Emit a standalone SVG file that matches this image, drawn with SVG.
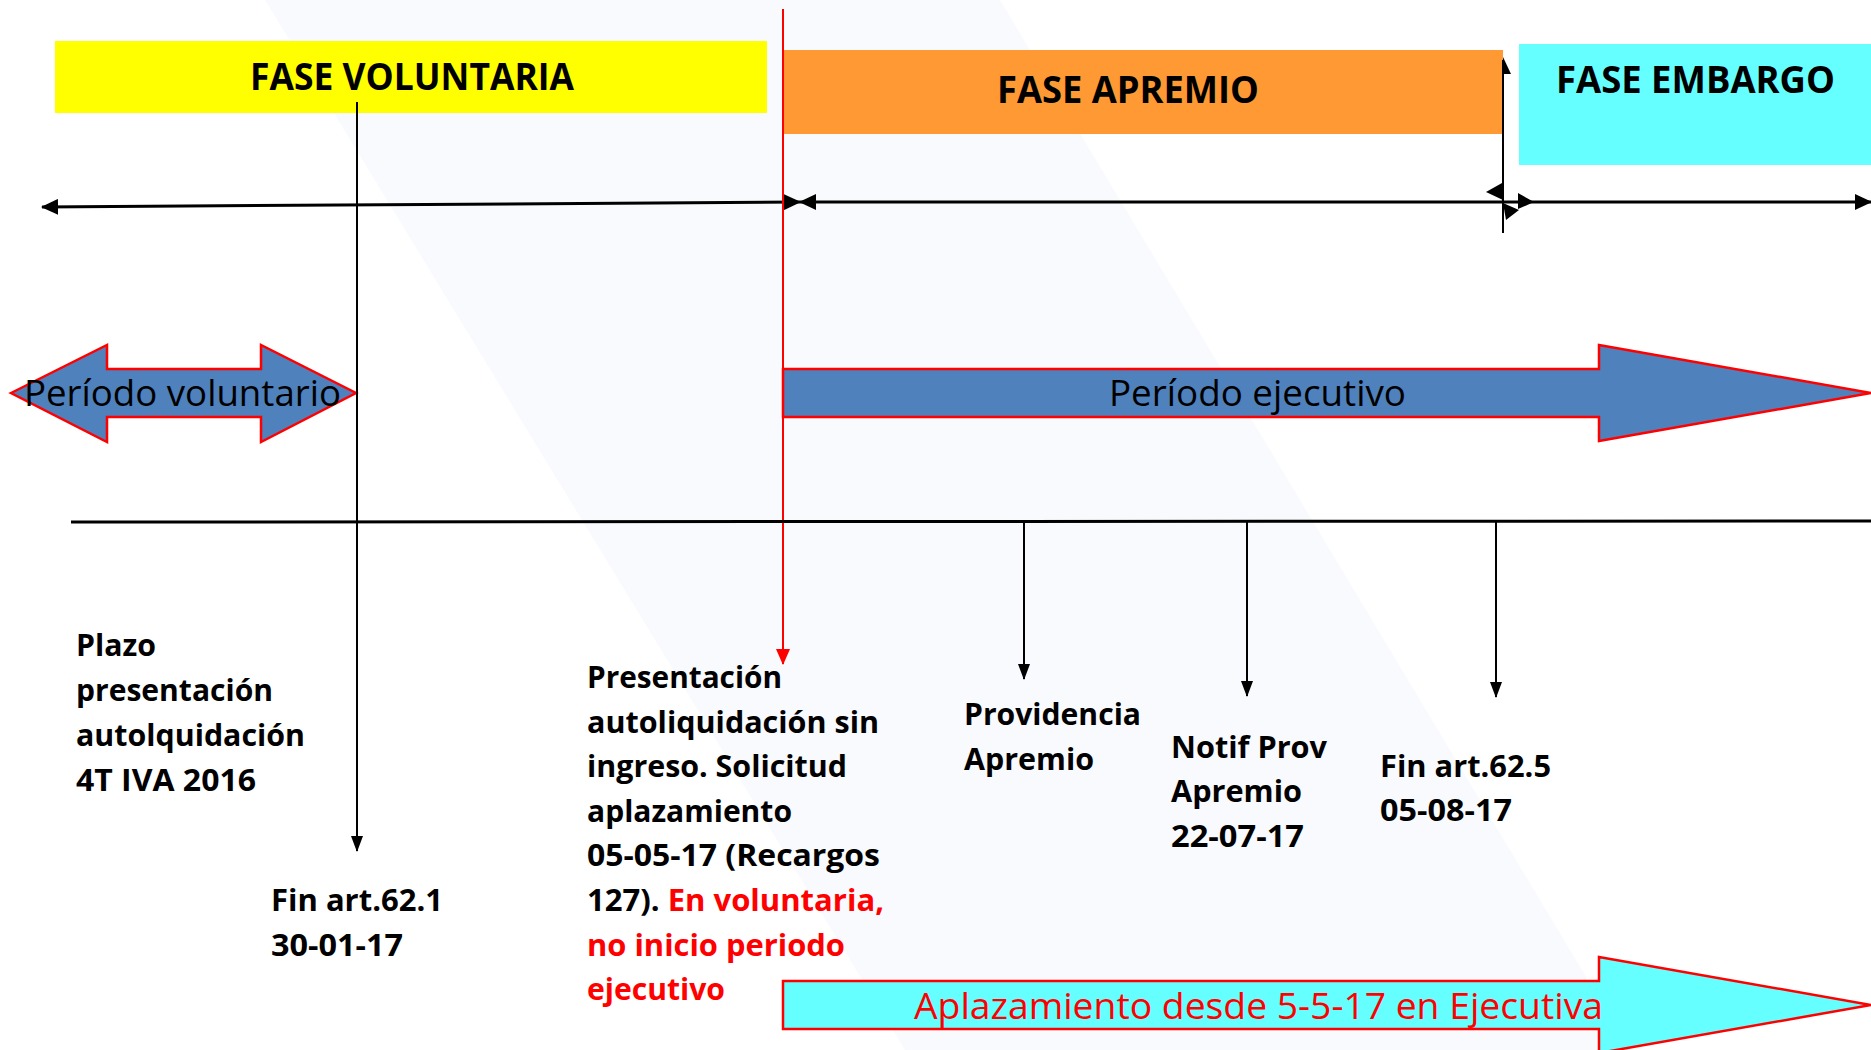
<svg xmlns="http://www.w3.org/2000/svg" width="1871" height="1050" viewBox="0 0 1871 1050">
<style>
.t{font-family:"Open Sans","Liberation Sans",sans-serif;font-weight:700;font-size:31px;fill:#000}
.h{font-family:"Open Sans","Liberation Sans",sans-serif;font-weight:700;font-size:38px;fill:#000}
.p{font-family:"Open Sans","Liberation Sans",sans-serif;font-weight:400;font-size:36px;fill:#000}
.red{fill:#FF0000}
.ln{stroke:#000;stroke-width:3;fill:none}
.thin{stroke:#000;stroke-width:2;fill:none}
.blue{fill:#4F81BD;stroke:#FF0000;stroke-width:2.5;stroke-linejoin:miter}
.cyan{fill:#66FFFF;stroke:#FF0000;stroke-width:2.5}
</style>
<defs>
<marker id="ah" markerUnits="userSpaceOnUse" markerWidth="16" markerHeight="12" refX="15" refY="6" orient="auto-start-reverse"><path d="M0,0L16,6L0,12z" fill="#000"/></marker>
<marker id="ahb" markerUnits="userSpaceOnUse" markerWidth="17" markerHeight="16" refX="16" refY="8" orient="auto-start-reverse"><path d="M0,0L17,8L0,16z" fill="#000"/></marker>
<marker id="ahr" markerUnits="userSpaceOnUse" markerWidth="16" markerHeight="14" refX="15" refY="7" orient="auto"><path d="M0,0L16,7L0,14z" fill="#FF0000"/></marker>
</defs>
<rect width="1871" height="1050" fill="#FFFFFF"/>
<polygon points="265,0 1000,0 1630,1050 905,1050" fill="#F8FAFD"/>

<g id="fase-voluntaria">
<rect x="55" y="41" width="712" height="72" fill="#FFFF00"/>
<text class="h" x="250" y="90" textLength="324" lengthAdjust="spacingAndGlyphs">FASE VOLUNTARIA</text>
</g>
<g id="fase-apremio">
<rect x="783" y="50" width="720" height="84" fill="#FF9933"/>
<text class="h" x="997" y="103" textLength="262" lengthAdjust="spacingAndGlyphs">FASE APREMIO</text>
</g>
<g id="fase-embargo">
<rect x="1519" y="44" width="352" height="121" fill="#66FFFF"/>
<text class="h" x="1556" y="93" textLength="279" lengthAdjust="spacingAndGlyphs">FASE EMBARGO</text>
</g>

<g id="periodo-voluntario">
<polygon class="blue" points="11,393 107,345 107,369 261,369 261,345 356,393 261,442 261,417 107,417 107,442"/>
</g>
<g id="periodo-ejecutivo">
<polygon class="blue" points="783,369 1599,369 1599,345 1871,393 1599,441 1599,417 783,417"/>
</g>
<g id="aplazamiento">
<polygon class="cyan" points="783,981 1599,981 1599,957 1871,1005 1599,1053 1599,1029 783,1029"/>
</g>

<g id="connectors">
<line class="ln" x1="42" y1="207" x2="800" y2="202" marker-start="url(#ahb)" marker-end="url(#ahb)"/>
<line class="ln" x1="800" y1="202" x2="1503" y2="202" marker-start="url(#ahb)"/>
<line class="ln" x1="1503" y1="202" x2="1871" y2="202" marker-end="url(#ahb)"/>
<polygon points="1486,192 1502,183 1503,200" fill="#000"/>
<polygon points="1503,203 1519,210 1506,220" fill="#000"/>
<polygon points="1518,193 1534,202 1518,209" fill="#000"/>
<line class="thin" x1="1503" y1="60" x2="1503" y2="233"/>
<polygon points="1503,57 1511,74 1503,74" fill="#000"/>
<line class="thin" x1="357" y1="102" x2="357" y2="851" marker-end="url(#ah)"/>
<line x1="783" y1="9" x2="783" y2="664" stroke="#FF0000" stroke-width="2" marker-end="url(#ahr)"/>
<line class="ln" x1="71" y1="522" x2="1871" y2="521"/>
<line class="thin" x1="1024" y1="522" x2="1024" y2="679" marker-end="url(#ah)"/>
<line class="thin" x1="1247" y1="522" x2="1247" y2="696" marker-end="url(#ah)"/>
<line class="thin" x1="1496" y1="522" x2="1496" y2="697" marker-end="url(#ah)"/>
</g>

<g id="labels">
<text class="p" x="24" y="406" textLength="317" lengthAdjust="spacingAndGlyphs">Período voluntario</text>
<text class="p" x="1109" y="406" textLength="297" lengthAdjust="spacingAndGlyphs">Período ejecutivo</text>
<text class="p red" x="914" y="1019" textLength="689" lengthAdjust="spacingAndGlyphs">Aplazamiento desde 5-5-17 en Ejecutiva</text>
</g>

<g id="plazo">
<text class="t" x="76" y="656" textLength="80" lengthAdjust="spacingAndGlyphs">Plazo</text>
<text class="t" x="76" y="701" textLength="197" lengthAdjust="spacingAndGlyphs">presentación</text>
<text class="t" x="76" y="746" textLength="229" lengthAdjust="spacingAndGlyphs">autolquidación</text>
<text class="t" x="76" y="791" textLength="180" lengthAdjust="spacingAndGlyphs">4T IVA 2016</text>
</g>
<g id="fin-62-1">
<text class="t" x="271" y="911" textLength="172" lengthAdjust="spacingAndGlyphs">Fin art.62.1</text>
<text class="t" x="271" y="956" textLength="132" lengthAdjust="spacingAndGlyphs">30-01-17</text>
</g>
<g id="presentacion">
<text class="t" x="587" y="688" textLength="195" lengthAdjust="spacingAndGlyphs">Presentación</text>
<text class="t" x="587" y="733" textLength="292" lengthAdjust="spacingAndGlyphs">autoliquidación sin</text>
<text class="t" x="587" y="777" textLength="260" lengthAdjust="spacingAndGlyphs">ingreso. Solicitud</text>
<text class="t" x="587" y="822" textLength="205" lengthAdjust="spacingAndGlyphs">aplazamiento</text>
<text class="t" x="587" y="866" textLength="293" lengthAdjust="spacingAndGlyphs">05-05-17 (Recargos</text>
<text class="t" x="587" y="911" textLength="297" lengthAdjust="spacingAndGlyphs">127). <tspan class="red">En voluntaria,</tspan></text>
<text class="t red" x="587" y="956" textLength="258" lengthAdjust="spacingAndGlyphs">no inicio periodo</text>
<text class="t red" x="587" y="1000" textLength="138" lengthAdjust="spacingAndGlyphs">ejecutivo</text>
</g>
<g id="providencia">
<text class="t" x="964" y="725" textLength="177" lengthAdjust="spacingAndGlyphs">Providencia</text>
<text class="t" x="964" y="770" textLength="130" lengthAdjust="spacingAndGlyphs">Apremio</text>
</g>
<g id="notif">
<text class="t" x="1171" y="758" textLength="156" lengthAdjust="spacingAndGlyphs">Notif Prov</text>
<text class="t" x="1171" y="802" textLength="131" lengthAdjust="spacingAndGlyphs">Apremio</text>
<text class="t" x="1171" y="847" textLength="133" lengthAdjust="spacingAndGlyphs">22-07-17</text>
</g>
<g id="fin-62-5">
<text class="t" x="1380" y="777" textLength="171" lengthAdjust="spacingAndGlyphs">Fin art.62.5</text>
<text class="t" x="1380" y="821" textLength="132" lengthAdjust="spacingAndGlyphs">05-08-17</text>
</g>
</svg>
